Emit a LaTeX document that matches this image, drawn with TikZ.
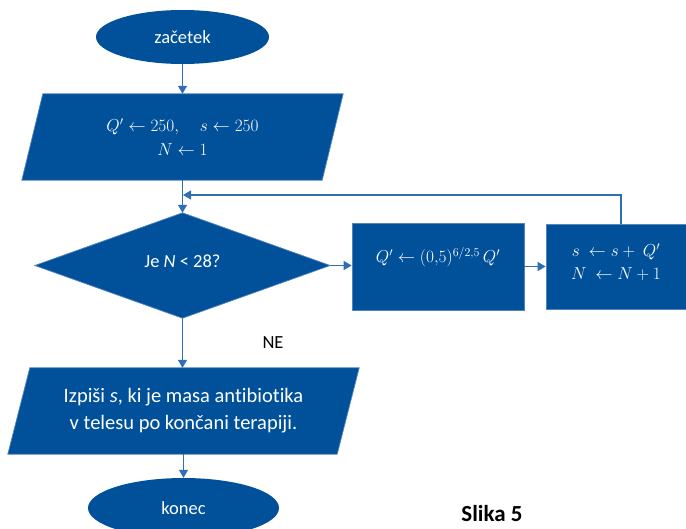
\documentclass[tikz,border=0pt]{standalone}
\usepackage{fontspec}
\setmainfont[Ligatures=NoCommon]{Carlito}
\usetikzlibrary{arrows.meta,shapes.geometric,backgrounds}
\definecolor{fcblue}{RGB}{0,81,154}
\definecolor{fcline}{RGB}{46,110,180}
\definecolor{fcedge}{RGB}{84,132,192}
\begin{document}
\begin{tikzpicture}[x=1pt,y=-1pt,
  arr/.style={draw=fcline,line width=1.2pt,-{Triangle[width=9pt,length=8pt]}},
  holder/.style={rectangle,inner sep=0pt,text=white,align=center},
  shapefill/.style={fill=fcblue,draw=fcedge,line width=0.7pt},
  terminal/.style={ellipse,inner sep=0pt,fill=fcblue,text=white,font=\fontsize{18.5}{22}\selectfont},
  procbox/.style={holder,shapefill,font=\fontsize{18}{23}\selectfont},
]
\useasboundingbox (0,0) rectangle (686,528);

% start / end terminals
\node[terminal,minimum width=173pt,minimum height=54pt] (start) at (182.5,37) {začetek};
\node[terminal,minimum width=191pt,minimum height=60pt] (stop) at (183.5,508) {konec};

% input: initial values
\node[holder,minimum width=300pt,minimum height=86pt,font=\fontsize{18}{24}\selectfont]
  (init) at (182.5,137) {$Q' \leftarrow 250,\quad s \leftarrow 250$\\ $N \leftarrow 1$};

% decision
\node[holder,minimum width=295pt,minimum height=105pt,font=\fontsize{18.5}{22}\selectfont]
  (dec) at (182.5,265.5) {\raisebox{4pt}[\height][\depth]{Je \textit{N} < 28?}};

% loop body
\node[procbox,minimum width=172pt,minimum height=87pt] (decay) at (438,266.5)
  {\raisebox{9pt}[\height][\depth]{$Q' \leftarrow (0{,}5)^{6/2{,}5}\,Q'$}};
\node[procbox,minimum width=140pt,minimum height=85pt] (acc) at (616,266.5)
  {\raisebox{3pt}[\height][\depth]{\begin{tabular}{@{}c@{}}$s\ \leftarrow s +\ Q'$\\ $N\ \leftarrow N+1$\end{tabular}}};

% output
\node[holder,minimum width=329pt,minimum height=86pt,font=\fontsize{20.5}{27}\selectfont]
  (out) at (183.5,411) {Izpiši \textit{s}, ki je masa antibiotika\\ v telesu po končani terapiji.};

% filled outlines of the parallelograms and the diamond
\begin{scope}[on background layer]
  \path[shapefill] ([xshift=10.5pt]init.north west) -- ([xshift=10.5pt]init.north east)
    -- ([xshift=-10.5pt]init.south east) -- ([xshift=-10.5pt]init.south west) -- cycle;
  \path[shapefill] (dec.north) -- (dec.east) -- (dec.south) -- (dec.west) -- cycle;
  \path[shapefill] ([xshift=11pt]out.north west) -- ([xshift=11pt]out.north east)
    -- ([xshift=-11pt]out.south east) -- ([xshift=-11pt]out.south west) -- cycle;
\end{scope}

% connectors
\coordinate (join) at (183,195);
\draw[arr] (start.south) -- (init.north);
\draw[arr] (init.south) -- (dec.north);
\draw[arr] (dec.east) -- (decay.west |- dec.east);
\draw[arr] (decay.east) -- (acc.west);
\draw[arr] ([xshift=5pt]acc.north) |- (join);
\draw[arr] (dec.south) -- (dec.south |- out.north);
\draw[arr] (out.south -| stop.north) -- (stop.north);

% labels
\node[font=\fontsize{18.5}{22}\selectfont] (no) at (273,343) {NE};
\node[font=\fontsize{23}{27}\selectfont\bfseries,anchor=base,inner sep=0pt] (caption) at (492,521) {Slika 5};
\end{tikzpicture}
\end{document}
